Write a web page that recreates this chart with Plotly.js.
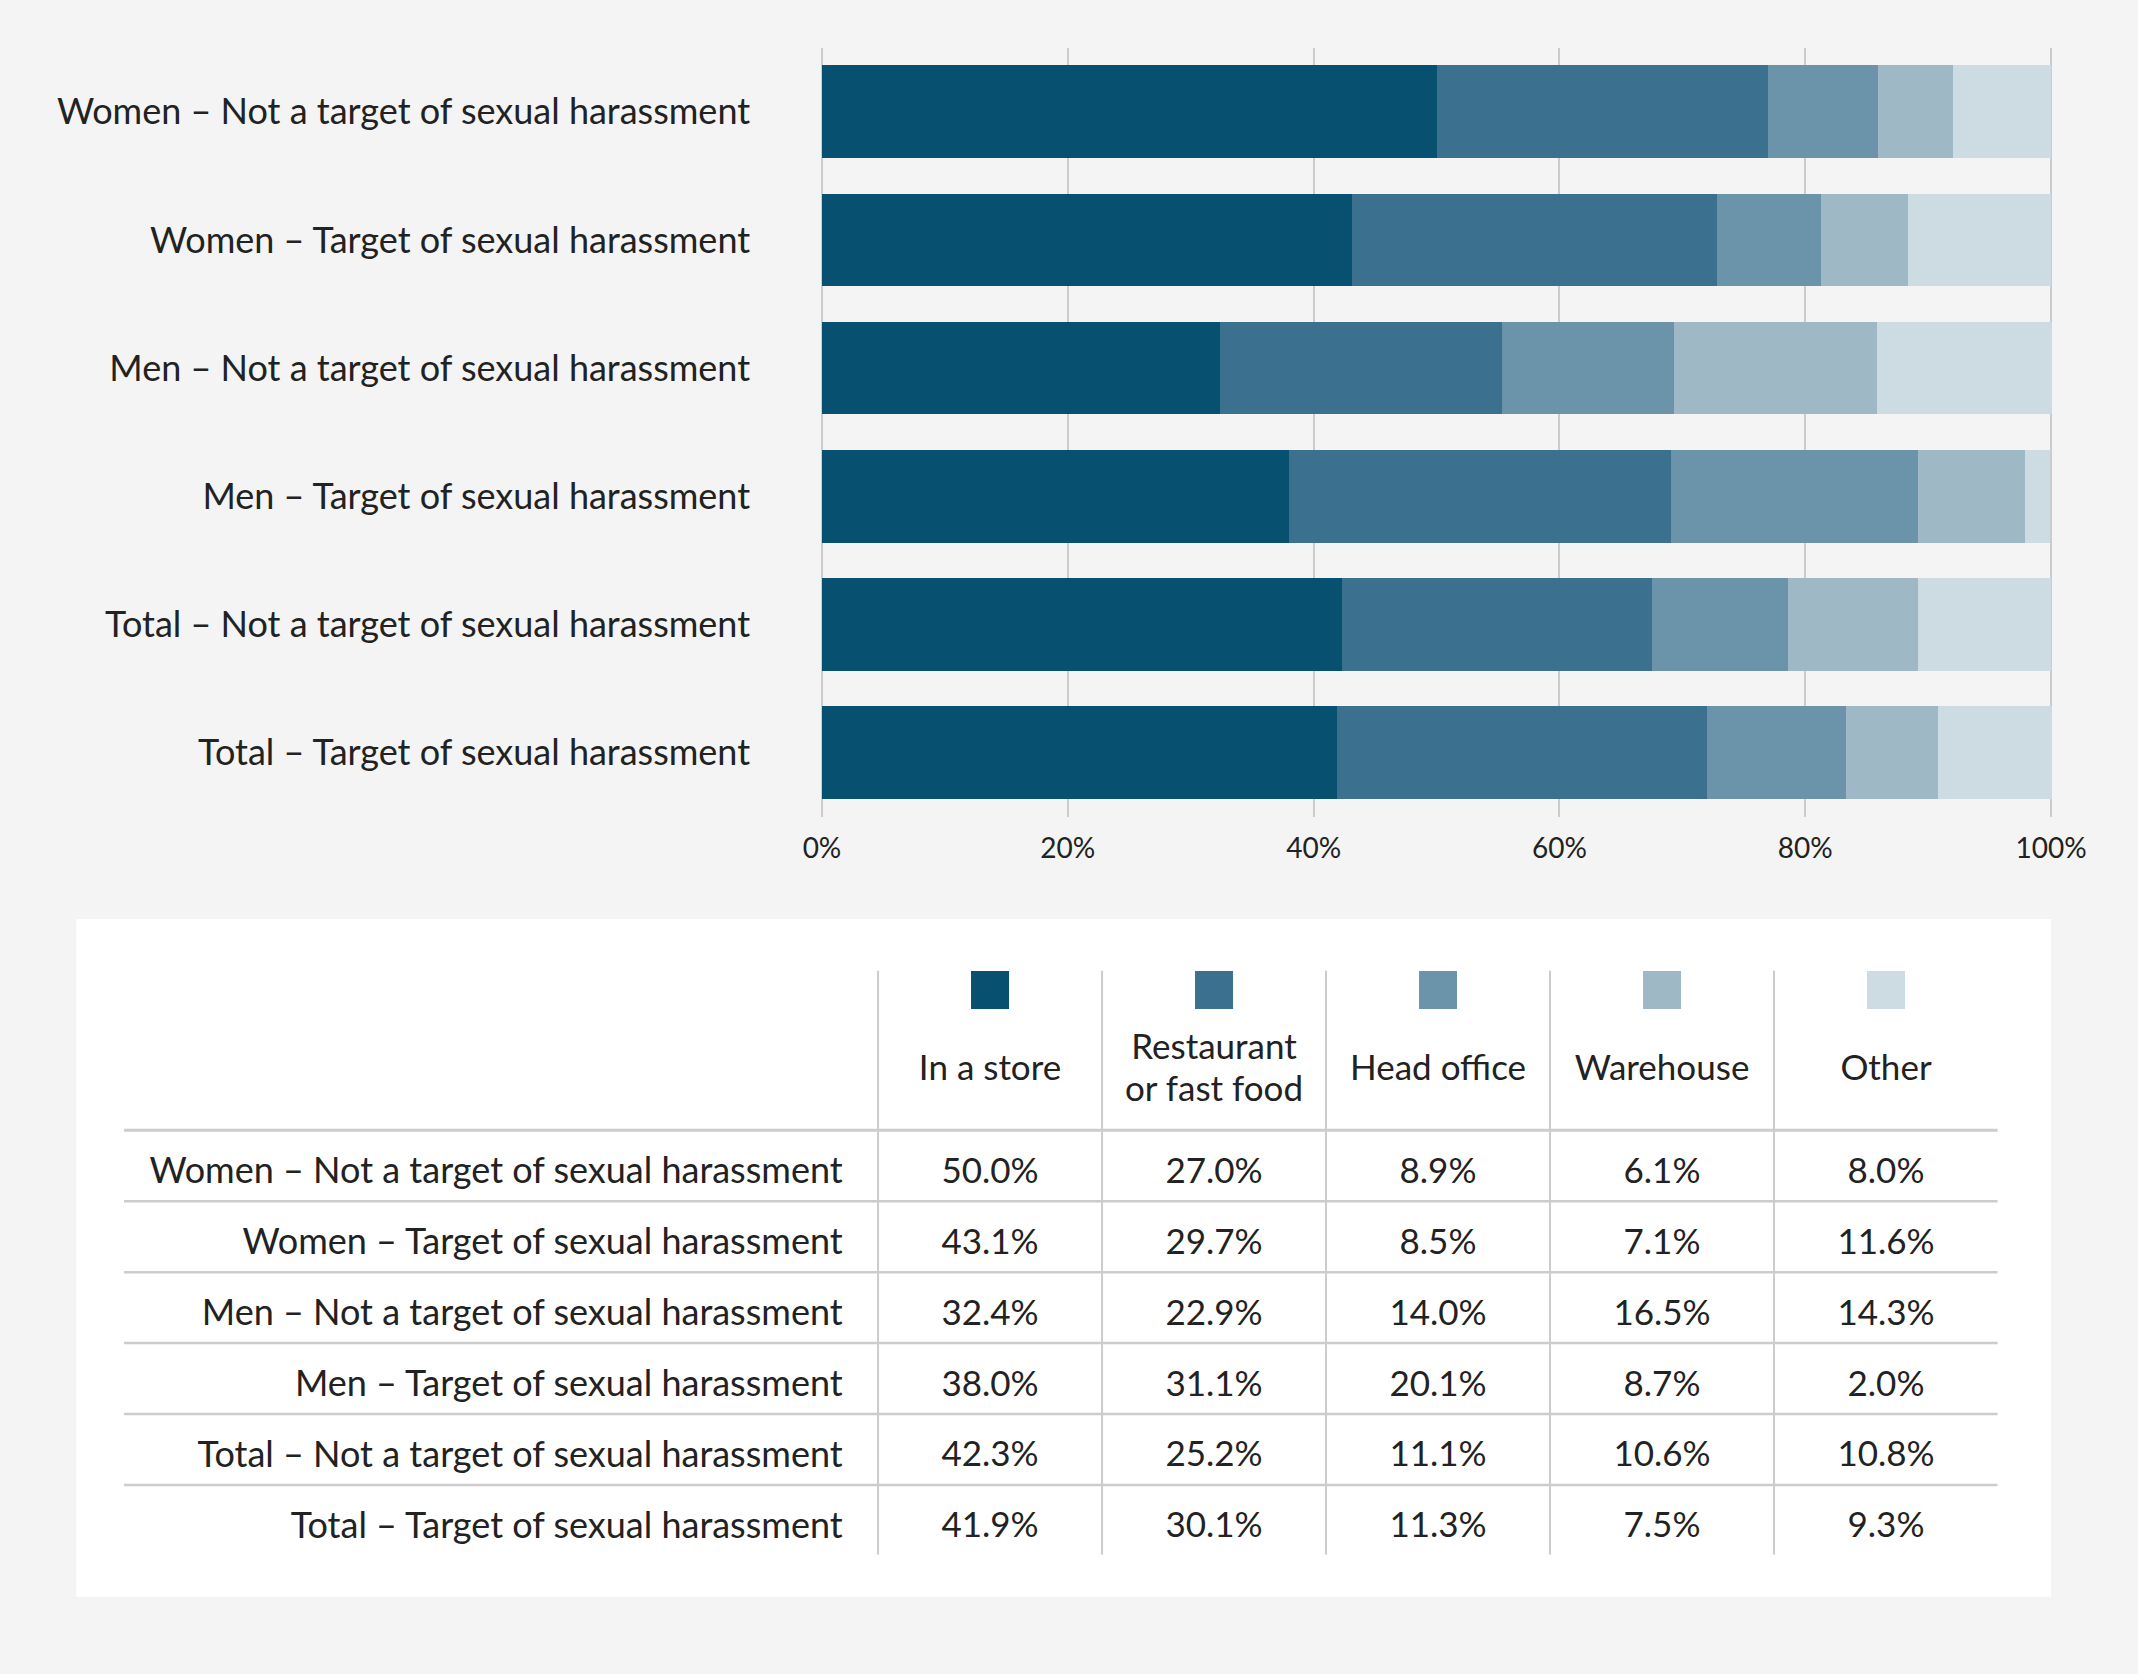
<!DOCTYPE html>
<html>
<head>
<meta charset="utf-8">
<script src="https://cdn.plot.ly/plotly-3.0.1.min.js"></script>
<style>
  body { margin: 0; background: #f3f4f3; }
  #chart { width: 2138px; height: 1674px; }
</style>
</head>
<body>
<div id="chart"></div>
<script>
// workplace by harassment group

var groups = [
  "Women \u2013 Not a target of sexual harassment",
  "Women \u2013 Target of sexual harassment",
  "Men \u2013 Not a target of sexual harassment",
  "Men \u2013 Target of sexual harassment",
  "Total \u2013 Not a target of sexual harassment",
  "Total \u2013 Target of sexual harassment"
];
var seriesNames = ["In a store", "Restaurant or fast food", "Head office", "Warehouse", "Other"];
var headerLabels = ["In a store", "Restaurant<br>or fast food", "Head office", "Warehouse", "Other"];
var inStore    = [50.0, 43.1, 32.4, 38.0, 42.3, 41.9];
var restaurant = [27.0, 29.7, 22.9, 31.1, 25.2, 30.1];
var headOffice = [8.9, 8.5, 14.0, 20.1, 11.1, 11.3];
var warehouse  = [6.1, 7.1, 16.5, 8.7, 10.6, 7.5];
var other      = [8.0, 11.6, 14.3, 2.0, 10.8, 9.3];
var xTicks = [0, 20, 40, 60, 80, 100];

var series = [inStore, restaurant, headOffice, warehouse, other];
var colors = ["#08506f", "#3b718e", "#6b94aa", "#9eb8c6", "#cddce3"];
var FONT = "Lato, 'Open Sans', sans-serif";
var TXT = "#222222";
var LINE = "#cccccc";

var traces = [];

// stacked bars
series.forEach(function(vals, s) {
  traces.push({
    type: "bar",
    orientation: "h",
    name: seriesNames[s],
    x: vals,
    y: groups,
    marker: {color: colors[s], line: {width: 0}},
    hoverinfo: "x+name",
    xaxis: "x",
    yaxis: "y"
  });
});

// table: columns 1..5, rows 0..5 on the second (hidden) axes
var rowIdx = groups.map(function(g, i) { return i; });
var textShift = 0.116;   // glyphs sit a bit low in their rows
var headerY = -1.33;
var lineGap = 0.59;

traces.push({
  type: "scatter", mode: "markers",
  x: series.map(function(v, s) { return s + 1; }),
  y: series.map(function() { return -2.479; }),
  marker: {symbol: "square", size: 38, color: colors, line: {width: 0}},
  hoverinfo: "skip", xaxis: "x2", yaxis: "y2"
});

// header labels, line by line so the leading stays tight
var hx = [], hy = [], ht = [];
headerLabels.forEach(function(lbl, s) {
  var lines = lbl.split("<br>");
  lines.forEach(function(line, k) {
    hx.push(s + 1);
    hy.push(headerY + (k - (lines.length - 1) / 2) * lineGap);
    ht.push(line);
  });
});
traces.push({
  type: "scatter", mode: "text",
  x: hx, y: hy, text: ht,
  textposition: "middle center",
  textfont: {family: FONT, size: 35, color: TXT},
  hoverinfo: "skip", xaxis: "x2", yaxis: "y2"
});

traces.push({
  type: "scatter", mode: "text",
  x: rowIdx.map(function() { return 0.342; }),
  y: rowIdx.map(function(i) { return i + textShift; }),
  text: groups,
  textposition: "middle left",
  textfont: {family: FONT, size: 36, color: TXT},
  hoverinfo: "skip", xaxis: "x2", yaxis: "y2"
});

series.forEach(function(vals, s) {
  traces.push({
    type: "scatter", mode: "text",
    x: vals.map(function() { return s + 1; }),
    y: rowIdx.map(function(i) { return i + textShift; }),
    text: vals.map(function(v) { return v.toFixed(1) + "%"; }),
    textposition: "middle center",
    textfont: {family: FONT, size: 35, color: TXT},
    hoverinfo: "skip", xaxis: "x2", yaxis: "y2"
  });
});

var shapes = [{
  type: "rect", xref: "paper", yref: "paper", layer: "below",
  x0: 0.0357, x1: 0.9593, y0: 0.0462, y1: 0.451,
  fillcolor: "#ffffff", line: {width: 0}
}];

// header rule and row rules
for (var r = -1; r < groups.length - 1; r++) {
  shapes.push({
    type: "line", xref: "x2", yref: "y2", layer: "below",
    x0: -2.866, x1: 5.498, y0: r + 0.5, y1: r + 0.5,
    line: {color: LINE, width: r < 0 ? 3 : 2.5}
  });
}
// column rules
for (var c = 0; c < series.length; c++) {
  shapes.push({
    type: "line", xref: "x2", yref: "y2", layer: "below",
    x0: c + 0.5, x1: c + 0.5, y0: -2.749, y1: 5.48,
    line: {color: LINE, width: 2}
  });
}

var layout = {
  width: 2138,
  height: 1674,
  margin: {l: 0, r: 0, t: 0, b: 0},
  paper_bgcolor: "#f3f4f3",
  plot_bgcolor: "rgba(0,0,0,0)",
  barmode: "stack",
  bargap: 0.277,
  showlegend: false,
  font: {family: FONT, color: TXT},
  xaxis: {
    domain: [0.3836, 0.9602],
    range: [-0.15, 100.15],
    tickvals: xTicks,
    ticktext: xTicks.map(function(t) { return t + "%"; }),
    showgrid: true, gridcolor: LINE, gridwidth: 2,
    zeroline: false, showline: false, ticks: "",
    ticklabelstandoff: 12,
    tickfont: {family: FONT, size: 28, color: TXT},
    fixedrange: true
  },
  yaxis: {
    domain: [0.5121, 0.9715],
    type: "category",
    autorange: "reversed",
    showgrid: false, zeroline: false, showline: false, ticks: "",
    ticklabelstandoff: 69,
    tickfont: {family: FONT, size: 36, color: TXT},
    fixedrange: true
  },
  xaxis2: {
    domain: [0, 1], anchor: "y2",
    range: [-3.420, 6.125],
    visible: false, fixedrange: true
  },
  yaxis2: {
    domain: [0, 1], anchor: "x2",
    range: [7.166, -16.438],
    visible: false, fixedrange: true
  },
  shapes: shapes
};

Plotly.newPlot("chart", traces, layout, {displayModeBar: false, staticPlot: true});
</script>
</body>
</html>
